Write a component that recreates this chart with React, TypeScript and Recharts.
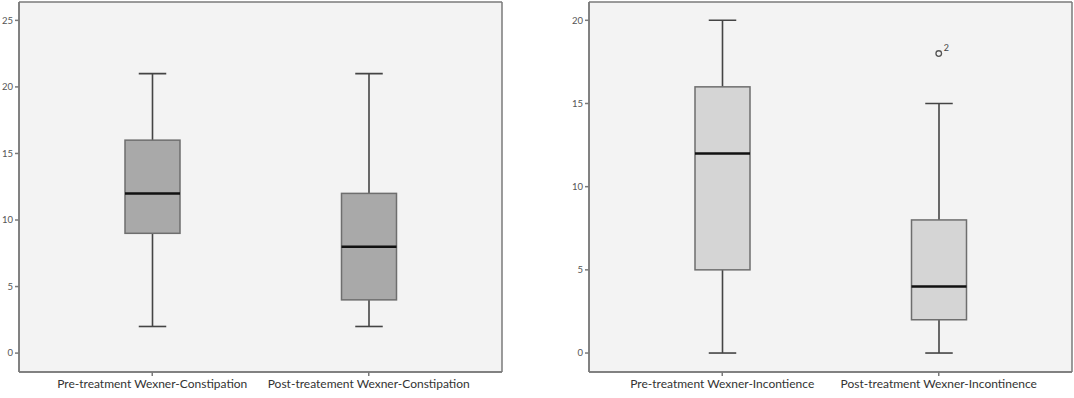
import React from "react";
import { ComposedChart, Bar, Scatter, XAxis, YAxis, CartesianGrid } from "recharts";

// Wexner constipation scores (boxplot five-number summaries)
const constipationCategories = ["Pre-treatment Wexner-Constipation", "Post-treatement Wexner-Constipation"];
const constipationMin = [2, 2];
const constipationQ1 = [9, 4];
const constipationMedian = [12, 8];
const constipationQ3 = [16, 12];
const constipationMax = [21, 21];
const constipationOutliers: (number | null)[] = [null, null];
const constipationOutlierLabels: (string | null)[] = [null, null];
const constipationTicks = [0, 5, 10, 15, 20, 25];

// Wexner incontinence scores
const incontinenceCategories = ["Pre-treatment Wexner-Incontience", "Post-treatment Wexner-Incontinence"];
const incontinenceMin = [0, 0];
const incontinenceQ1 = [5, 2];
const incontinenceMedian = [12, 4];
const incontinenceQ3 = [16, 8];
const incontinenceMax = [20, 15];
const incontinenceOutliers: (number | null)[] = [null, 18];
const incontinenceOutlierLabels: (string | null)[] = [null, "2"];
const incontinenceTicks = [0, 5, 10, 15, 20];

const FONT = "Lato, 'Open Sans', sans-serif";
const FRAME = "#7a7a7a";

const buildRows = (
    cats: string[], mins: number[], q1s: number[], meds: number[], q3s: number[], maxs: number[],
    outliers: (number | null)[], labels: (string | null)[]
) =>
    cats.map((name, i) => ({
        name,
        range: [mins[i], maxs[i]],
        min: mins[i],
        q1: q1s[i],
        median: meds[i],
        q3: q3s[i],
        max: maxs[i],
        outlier: outliers[i],
        outlierLabel: labels[i],
    }));

const makeBoxShape = (fill: string) => (props: any) => {
    const { x, y, width, height, payload } = props;
    if (!payload || !isFinite(y) || !isFinite(height)) return <g />;
    const top = Math.min(y, y + height);
    const bottom = Math.max(y, y + height);
    const ppu = (bottom - top) / (payload.max - payload.min);
    const py = (v: number) => bottom - (v - payload.min) * ppu;
    const cx = x + width / 2;
    const cap = width / 4;
    return (
        <g>
            <line x1={cx} x2={cx} y1={py(payload.max)} y2={py(payload.q3)} stroke="#444" strokeWidth={1.6} />
            <line x1={cx} x2={cx} y1={py(payload.q1)} y2={py(payload.min)} stroke="#444" strokeWidth={1.6} />
            <line x1={cx - cap} x2={cx + cap} y1={py(payload.max)} y2={py(payload.max)} stroke="#444" strokeWidth={1.6} />
            <line x1={cx - cap} x2={cx + cap} y1={py(payload.min)} y2={py(payload.min)} stroke="#444" strokeWidth={1.6} />
            <rect x={x} y={py(payload.q3)} width={width} height={py(payload.q1) - py(payload.q3)}
                fill={fill} stroke="#6e6e6e" strokeWidth={1.5} />
            <line x1={x} x2={x + width} y1={py(payload.median)} y2={py(payload.median)} stroke="#111" strokeWidth={2.5} />
        </g>
    );
};

const OutlierShape = (props: any) => {
    const { cx, cy, payload } = props;
    if (!payload || payload.outlier == null || !isFinite(cx) || !isFinite(cy)) return <g />;
    return (
        <g>
            <circle cx={cx} cy={cy} r={2.8} fill="none" stroke="#555" strokeWidth={1.3} />
            <text x={cx + 5} y={cy - 3} fontSize={9} fill="#444" fontFamily={FONT}>{payload.outlierLabel}</text>
        </g>
    );
};

// frame lines on the plot-area edges
const frameRows = ({ offset }: any) => [offset.top, offset.top + offset.height];
const frameCols = ({ offset }: any) => [offset.left, offset.left + offset.width];

interface BoxPanelProps {
    rows: any[];
    domain: [number, number];
    ticks: number[];
    fill: string;
    width: number;
    yAxisWidth: number;
    marginRight: number;
}

const BoxPanel = ({ rows, domain, ticks, fill, width, yAxisWidth, marginRight }: BoxPanelProps) => (
    <ComposedChart width={width} height={398} data={rows}
        margin={{ top: 2, right: marginRight, bottom: 0, left: 0 }}>
        <CartesianGrid fill="#f3f3f3" stroke={FRAME} strokeWidth={1.5}
            horizontalCoordinatesGenerator={frameRows} verticalCoordinatesGenerator={frameCols} />
        <XAxis dataKey="name" type="category" padding={{ left: 25, right: 25 }} height={26}
            stroke={FRAME} strokeWidth={1.5} tickSize={4} tickMargin={3}
            tick={{ fontSize: 12, fill: "#333", fontFamily: FONT }} interval={0} />
        <YAxis type="number" domain={domain} ticks={ticks} allowDataOverflow width={yAxisWidth}
            stroke={FRAME} strokeWidth={1.5} tickSize={4} tickMargin={2}
            tick={{ fontSize: 9.5, fill: "#555", fontFamily: FONT }} />
        <Bar dataKey="range" barSize={55} shape={makeBoxShape(fill)} isAnimationActive={false} />
        <Scatter dataKey="outlier" shape={OutlierShape} isAnimationActive={false} />
    </ComposedChart>
);

export default function App() {
    const constipationRows = buildRows(constipationCategories, constipationMin, constipationQ1,
        constipationMedian, constipationQ3, constipationMax, constipationOutliers, constipationOutlierLabels);
    const incontinenceRows = buildRows(incontinenceCategories, incontinenceMin, incontinenceQ1,
        incontinenceMedian, incontinenceQ3, incontinenceMax, incontinenceOutliers, incontinenceOutlierLabels);

    return (
        <div style={{ position: "absolute", left: 0, top: 0, width: 1074, height: 398, background: "#fff" }}>
            <div style={{ position: "absolute", left: 0, top: 0 }}>
                <BoxPanel rows={constipationRows} domain={[-1.42, 26.38]} ticks={constipationTicks}
                    fill="#a9a9a9" width={520} yAxisWidth={19} marginRight={18} />
            </div>
            <div style={{ position: "absolute", left: 560, top: 0 }}>
                <BoxPanel rows={incontinenceRows} domain={[-1.14, 21.1]} ticks={incontinenceTicks}
                    fill="#d5d5d5" width={514} yAxisWidth={29} marginRight={2} />
            </div>
        </div>
    );
}
